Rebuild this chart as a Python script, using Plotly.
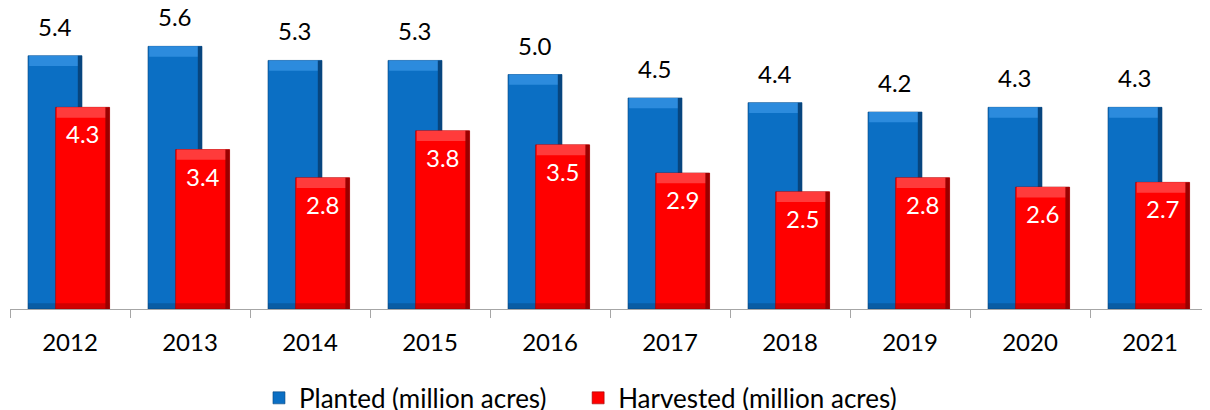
import plotly.graph_objects as go

years = ["2012", "2013", "2014", "2015", "2016", "2017", "2018", "2019", "2020", "2021"]
planted = [5.4, 5.6, 5.3, 5.3, 5.0, 4.5, 4.4, 4.2, 4.3, 4.3]
harvested = [4.3, 3.4, 2.8, 3.8, 3.5, 2.9, 2.5, 2.8, 2.6, 2.7]

FONT = "Lato"
W = 0.45
OFF_B = -0.35
OFF_R = -0.12
CAP = 0.22
NBSP = "\u00a0"

fig = go.Figure()

def add_series(vals, name, main, light, dark, off):
    fig.add_trace(go.Bar(x=years, y=vals, name=name, width=W, offset=off,
                         marker=dict(color=main, line=dict(width=0.6, color=dark)),
                         showlegend=True))
    fig.add_trace(go.Bar(x=years, y=[CAP] * len(vals), base=[v - CAP for v in vals],
                         width=W - 0.02, offset=off + 0.01,
                         marker=dict(color=light, line=dict(width=0)),
                         showlegend=False, hoverinfo="skip"))
    fig.add_trace(go.Bar(x=years, y=vals, width=0.035, offset=off + W - 0.035,
                         marker=dict(color=dark, line=dict(width=0)),
                         showlegend=False, hoverinfo="skip"))
    fig.add_trace(go.Bar(x=years, y=[0.12] * len(vals), base=[0] * len(vals),
                         width=W, offset=off,
                         marker=dict(color=dark, opacity=0.45, line=dict(width=0)),
                         showlegend=False, hoverinfo="skip"))

add_series(planted, "Planted (million acres)" + NBSP * 4, "#0B6FC4", "#2C8BDD", "#07457E", OFF_B)
add_series(harvested, "Harvested (million acres)", "#FF0000", "#FF3B3B", "#9A0000", OFF_R)

for i, (p, h) in enumerate(zip(planted, harvested)):
    fig.add_annotation(x=i + OFF_B + W / 2, y=p, text=f"{p:.1f}", showarrow=False,
                       yshift=13, yanchor="bottom",
                       font=dict(family=FONT, size=24, color="#000000"))
    fig.add_annotation(x=i + OFF_R + W / 2, y=h, text=f"{h:.1f}", showarrow=False,
                       yshift=-10, yanchor="top",
                       font=dict(family=FONT, size=24, color="#FFFFFF"))

fig.update_layout(
    width=1202, height=402,
    margin=dict(l=2, r=0, t=0, b=101),
    barmode="overlay",
    plot_bgcolor="white", paper_bgcolor="white",
    font=dict(family=FONT, size=24, color="#000000"),
    xaxis=dict(type="category", range=[-0.5, 9.5], showline=True, linecolor="#A6A6A6", linewidth=1,
               ticks="outside", tickson="boundaries", ticklen=8, tickcolor="#A6A6A6",
               showgrid=False, tickangle=0, ticklabelstandoff=12,
               tickfont=dict(family=FONT, size=24)),
    yaxis=dict(range=[0, 301 / 46.9], visible=False, showgrid=False, zeroline=False),
    legend=dict(orientation="h", xref="container", yref="container",
                x=0.2088, xanchor="left", y=0.030, yanchor="middle",
                font=dict(family=FONT, size=26), traceorder="normal",
                itemwidth=30),
    showlegend=True,
)

fig.write_html("out.html")
